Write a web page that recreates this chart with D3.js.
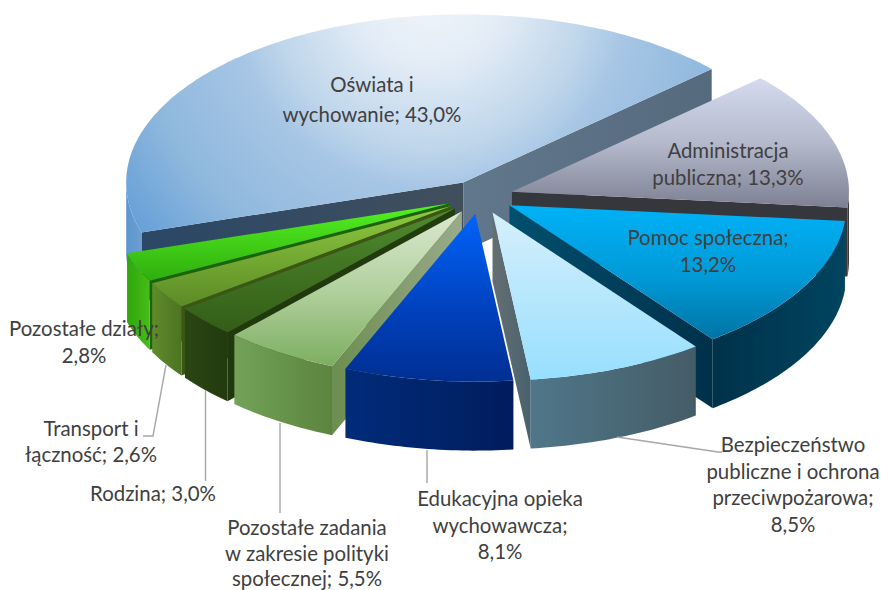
<!DOCTYPE html>
<html><head><meta charset="utf-8">
<script src="https://cdnjs.cloudflare.com/ajax/libs/d3/7.8.5/d3.min.js"></script>
<style>html,body{margin:0;padding:0;background:#fff}svg{display:block}text{font-family:Lato,"Open Sans",sans-serif;fill:#404040}</style>
</head><body><div id="c"></div>
<script>
// data
const categories=["Oświata i wychowanie","Administracja publiczna","Pomoc społeczna","Bezpieczeństwo publiczne i ochrona przeciwpożarowa","Edukacyjna opieka wychowawcza","Pozostałe zadania w zakresie polityki społecznej","Rodzina","Transport i łączność","Pozostałe działy"];
const values=[43.0,13.3,13.2,8.5,8.1,5.5,3.0,2.6,2.8];
const labelLines=[["Oświata i","wychowanie; {v}"],["Administracja","publiczna; {v}"],["Pomoc społeczna;","{v}"],["Bezpieczeństwo","publiczne i ochrona","przeciwpożarowa;","{v}"],["Edukacyjna opieka","wychowawcza;","{v}"],["Pozostałe zadania","w zakresie polityki","społecznej; {v}"],["Rodzina; {v}"],["Transport i","łączność; {v}"],["Pozostałe działy;","{v}"]];

// layout and style
const W=881,H=590,cx=480,cy=197,rx=337,ry=168,depth=69,explode=0.1,first=-107.3;
const labelPos=[[372,92,30],[728,158,27],[708,245,27],[793,452,26.7],[500,506,26.7],[307,535,25.5],[153,501,0],[91,436,26],[84,336,27]];
const topStops=[
 null,
 [["0","#d4dbee"],[".5","#b4b9cc"],["1","#7c8092"]],
 [["0","#00b2f7"],[".55","#0099d6"],["1","#0074a4"]],
 [["0","#d6effb"],["1","#97dffe"]],
 [["0","#0064f8"],[".6","#0040bb"],["1","#002f92"]],
 [["0","#dce8d0"],[".5","#b2d19f"],["1","#7dae60"]],
 [["0","#4f8a2e"],["1","#335d17"]],
 [["0","#8ecb40"],["1","#5c8a26"]],
 [["0","#55f222"],["1","#2fae0d"]]];
const wallStops=[["#5d96cb","#6c9ed2"],["#2f2f34","#2f2f34"],["#00324a","#00445f"],["#4f7789","#455c67"],["#012c7a","#001c5c"],["#72a257","#5c843f"],["#2b4613","#223a0e"],["#5f8c2c","#4d7322"],["#2fa60c","#46bd18"]];
const startWall=[["#2a4766","#414f5d"],null,null,null,null,["#6c8d50","#9aab8c"],["#1f380c","#223d0e"],["#3c5614","#3c5614"],["#1c640a","#1c640a"]];
const endWall=[["#61778c","#566a7e"],["#36363d","#36363d"],["#00506f","#00304a"],["#666f72","#48626e"],null,null,null,null,null];
const leaders=[[[617,437],[718,452],[722,452]],[[427,450],[427,483]],[[280,423],[280,513]],[[205.5,390],[205.5,481]],[[166,365],[153,436],[143,436]]];
const order=[0,1,2,8,7,6,5,4,3];

const rad=d=>d*Math.PI/180;
const X=d3.scaleLinear().domain([-1,1]).range([-rx,rx]);
const Y=d3.scaleLinear().domain([-1,1]).range([ry,-ry]);
const svg=d3.select("#c").append("svg").attr("width",W).attr("height",H);
const defs=svg.append("defs");
const arcs=d3.pie().sort(null).value(d=>d).startAngle(rad(first)).endAngle(rad(first)+2*Math.PI)(values);
const line=d3.line();
function grad(id,stops,x1,y1,x2,y2){
 const g=defs.append("linearGradient").attr("id",id).attr("gradientUnits","userSpaceOnUse").attr("x1",x1).attr("y1",y1).attr("x2",x2).attr("y2",y2);
 stops.forEach(s=>g.append("stop").attr("offset",s[0]).attr("stop-color",s[1]));
 return `url(#${id})`;
}
const rg=defs.append("radialGradient").attr("id","top0").attr("gradientUnits","userSpaceOnUse").attr("cx",430).attr("cy",-10).attr("r",380);
[[0,"#f0f5fa"],[.2,"#e3ecf6"],[.43,"#bcd4ea"],[.52,"#a7c6e5"],[.78,"#8fb8dd"],[1,"#659fd8"]].forEach(s=>rg.append("stop").attr("offset",s[0]).attr("stop-color",s[1]));

order.forEach(i=>{
 const d=arcs[i],a0=d.startAngle,a1=d.endAngle,mid=(a0+a1)/2;
 const tx=cx+explode*X(Math.sin(mid)),ty=cy+explode*Y(Math.cos(mid));
 const P=a=>[tx+X(Math.sin(a)),ty+Y(Math.cos(a))];
 const n=Math.max(8,Math.ceil((a1-a0)/rad(1)));
 const angs=d3.range(n+1).map(k=>a0+(a1-a0)*k/n);
 const arcPts=angs.map(P);
 const down=p=>[p[0],p[1]+depth];
 const g=svg.append("g").attr("class","slice").datum(categories[i]);
 // radial walls
 const radial=(a,stops,id)=>{
  const p=P(a),q=[[tx,ty],p,down(p),down([tx,ty])];
  const e=d3.extent(q,v=>v[0]);
  g.append("path").attr("d",line(q)+"Z").attr("fill",grad(id,[["0",stops[0]],["1",stops[1]]],e[0],0,e[1],0));
 };
 if(startWall[i]) radial(a0,startWall[i],`s${i}`);
 if(endWall[i]) radial(a1,endWall[i],`e${i}`);
 // outer wall
 const front=angs.filter(a=>Math.cos(a)<0);
 if(front.length>1){
  const t=front.map(P),q=t.concat(t.map(down).reverse());
  const e=d3.extent(q,v=>v[0]);
  g.append("path").attr("d",line(q)+"Z").attr("fill",grad(`w${i}`,[["0",wallStops[i][0]],["1",wallStops[i][1]]],e[0],0,e[1],0));
 }
 // top
 const pts=[[tx,ty]].concat(arcPts);
 const ys=d3.extent(pts,v=>v[1]);
 const fill=topStops[i]?grad(`t${i}`,topStops[i],0,ys[0],0,ys[1]):"url(#top0)";
 g.append("path").attr("d",line(pts)+"Z").attr("fill",fill);
});

svg.append("g").selectAll("path").data(leaders).join("path").attr("d",line).attr("fill","none").attr("stroke","#a6a6a6").attr("stroke-width",1.4);

const fmt=v=>d3.format(".1f")(v).replace(".",",")+"%";
labelLines.forEach((ls,i)=>{
 const [x,y,dy]=labelPos[i];
 const t=svg.append("text").attr("text-anchor","middle").attr("font-size",20.4);
 ls.forEach((s,k)=>t.append("tspan").attr("x",x).attr("y",y+k*dy).text(s.replace("{v}",fmt(values[i]))));
});
</script></body></html>
